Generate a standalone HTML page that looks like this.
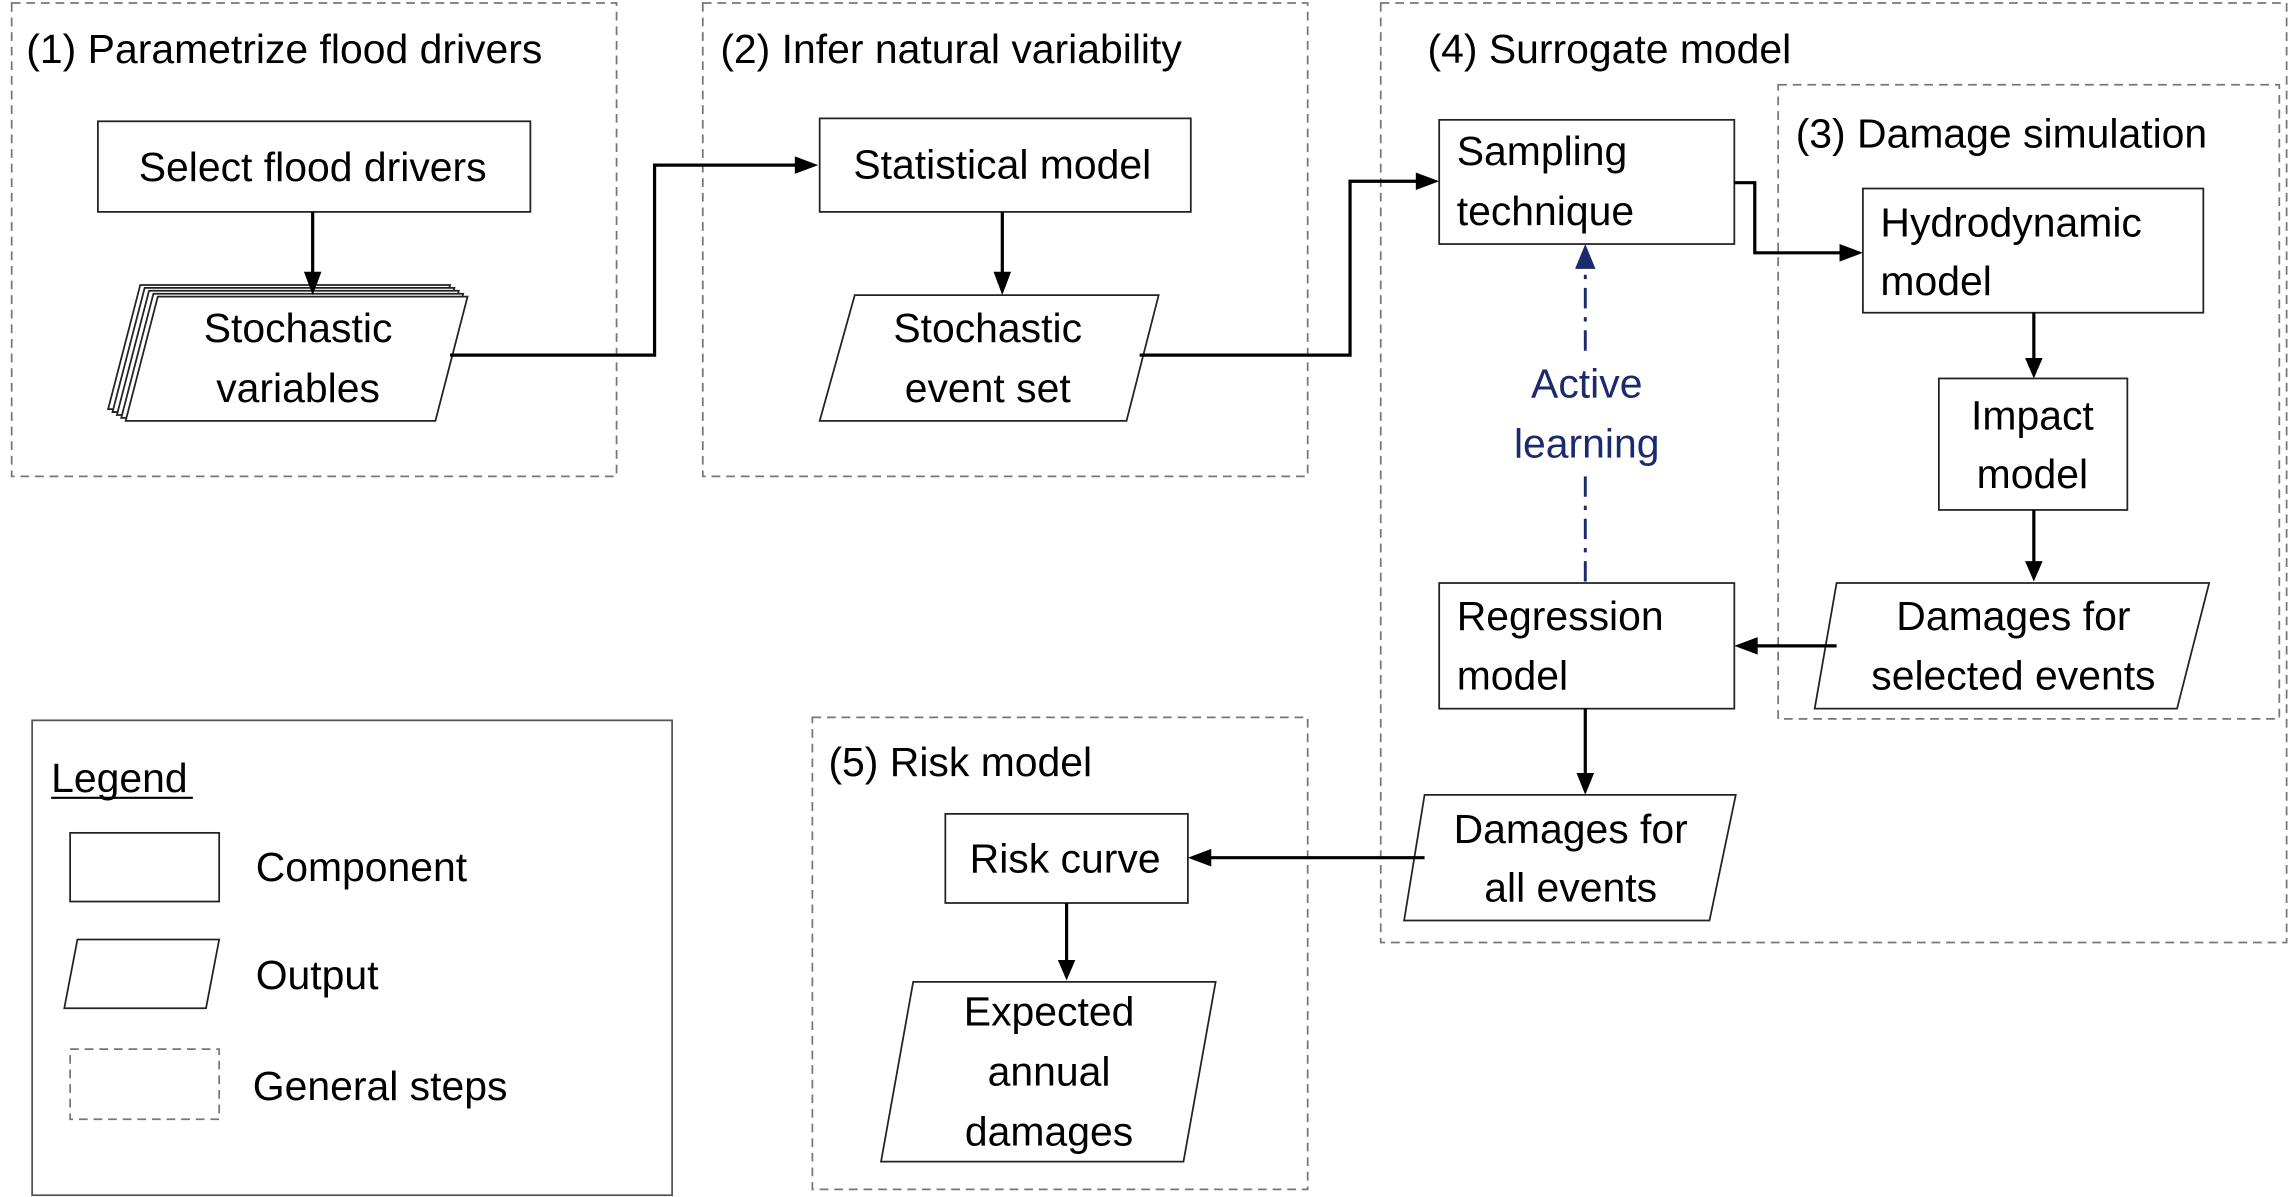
<!DOCTYPE html>
<html><head><meta charset="utf-8"><style>html,body{margin:0;padding:0;background:#fff}svg{display:block}</style></head>
<body>
<svg width="2291" height="1197" viewBox="0 0 1568 819.2" xmlns="http://www.w3.org/2000/svg" font-family="Liberation Sans, sans-serif" font-size="28" fill="#000">
<g fill="none" stroke="#777" stroke-width="1.2" stroke-dasharray="6,4">
<rect x="8" y="2" width="414" height="324"/>
<rect x="481" y="2" width="414" height="324"/>
<rect x="945" y="2" width="620" height="643"/>
<rect x="1217" y="58" width="343" height="434"/>
<rect x="556" y="491" width="339" height="323"/>
<rect x="48" y="718" width="102" height="48"/>
</g>
<rect x="22" y="493" width="438" height="325" fill="none" stroke="#555" stroke-width="1.2"/>
<g fill="#fff" stroke="#222" stroke-width="1.2">
<rect x="67" y="83" width="296" height="62"/>
<rect x="561" y="81" width="254" height="64"/>
<rect x="985" y="82" width="202" height="85"/>
<rect x="1275" y="129" width="233" height="85"/>
<rect x="1327" y="259" width="129" height="90"/>
<rect x="985" y="399" width="202" height="86"/>
<rect x="647" y="557" width="166" height="61"/>
<rect x="48" y="570" width="102" height="47"/>
<polygon points="96,195 308,195 286,280 74,280"/>
<polygon points="99,197 311,197 289,282 77,282"/>
<polygon points="102,199 314,199 292,284 80,284"/>
<polygon points="105,201 317,201 295,286 83,286"/>
<polygon points="108,203 320,203 298,288 86,288"/>
<polygon points="585,202 793,202 771,288 561,288"/>
<polygon points="1257,399 1512,399 1490,485 1242,485"/>
<polygon points="975,544 1188,544 1170,630 961,630"/>
<polygon points="625,672 832,672 810,795 603,795"/>
<polygon points="53,643 150,643 141,690 44,690"/>
</g>
<g fill="none" stroke="#000" stroke-width="2.2">
<line x1="214" y1="145" x2="214" y2="188"/>
<polyline points="308,243 448,243 448,113 546,113"/>
<line x1="686" y1="145" x2="686" y2="188"/>
<polyline points="780,243 924,243 924,124 971,124"/>
<polyline points="1187,125 1201,125 1201,173 1261,173"/>
<line x1="1392" y1="214" x2="1392" y2="246"/>
<line x1="1392" y1="349" x2="1392" y2="385"/>
<line x1="1257" y1="442" x2="1201" y2="442"/>
<line x1="1085" y1="485" x2="1085" y2="530"/>
<line x1="975" y1="587" x2="827" y2="587"/>
<line x1="730" y1="618" x2="730" y2="658"/>
</g>
<line x1="1085" y1="240" x2="1085" y2="182" stroke="#1a2a6c" stroke-width="2" stroke-dasharray="14,6,3,6"/>
<line x1="1085" y1="398" x2="1085" y2="324" stroke="#1a2a6c" stroke-width="2" stroke-dasharray="14,6,3,6"/>
<g fill="#000">
<polygon points="208,186 220,186 214,202"/>
<polygon points="544,107 544,119 560,113"/>
<polygon points="680,186 692,186 686,202"/>
<polygon points="969,118 969,130 985,124"/>
<polygon points="1259,167 1259,179 1275,173"/>
<polygon points="1386,245 1398,245 1392,259"/>
<polygon points="1386,384 1398,384 1392,398"/>
<polygon points="1203,436 1203,448 1187,442"/>
<polygon points="1079,529 1091,529 1085,544"/>
<polygon points="829,581 829,593 813,587"/>
<polygon points="724,657 736,657 730,671"/>
</g>
<polygon points="1078,184 1092,184 1085,167" fill="#1a2a6c"/>
<text x="18" y="43">(1) Parametrize flood drivers</text>
<text x="493" y="43">(2) Infer natural variability</text>
<text x="977" y="43">(4) Surrogate model</text>
<text x="1229" y="101">(3) Damage simulation</text>
<text x="567" y="531">(5) Risk model</text>
<g text-anchor="middle">
<text x="214" y="124">Select flood drivers</text>
<text x="204" y="234">Stochastic</text>
<text x="204" y="275">variables</text>
<text x="686" y="122">Statistical model</text>
<text x="676" y="234">Stochastic</text>
<text x="676" y="275">event set</text>
<text x="1391" y="294">Impact</text>
<text x="1391" y="334">model</text>
<text x="1378" y="431">Damages for</text>
<text x="1378" y="472">selected events</text>
<text x="1075" y="577">Damages for</text>
<text x="1075" y="617">all events</text>
<text x="729" y="597">Risk curve</text>
<text x="718" y="702">Expected</text>
<text x="718" y="743">annual</text>
<text x="718" y="784">damages</text>
<text x="1086" y="272" fill="#1a2a6c">Active</text>
<text x="1086" y="313" fill="#1a2a6c">learning</text>
</g>
<text x="997" y="113">Sampling</text>
<text x="997" y="154">technique</text>
<text x="1287" y="162">Hydrodynamic</text>
<text x="1287" y="202">model</text>
<text x="997" y="431">Regression</text>
<text x="997" y="472">model</text>
<text x="35" y="542">Legend</text>
<line x1="35" y1="546" x2="132" y2="546" stroke="#000" stroke-width="1.5"/>
<text x="175" y="603">Component</text>
<text x="175" y="677">Output</text>
<text x="173" y="753">General steps</text>
</svg>
</body></html>
